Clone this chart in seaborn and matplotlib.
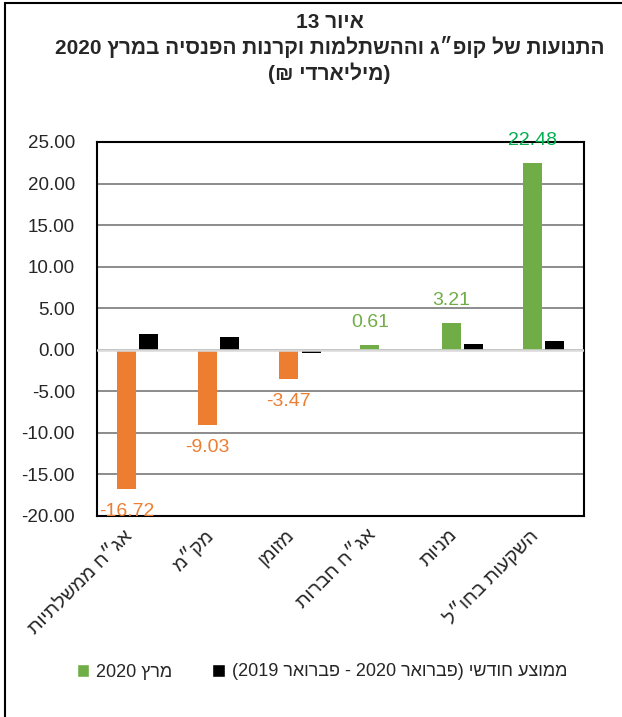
import re
import pandas as pd
import seaborn as sns
import matplotlib.pyplot as plt
from matplotlib.patches import Patch, Rectangle
from matplotlib.transforms import ScaledTranslation

# data (billions NIS)
categories = ["אג״ח ממשלתיות", "מק״מ", "מזומן", "אג״ח חברות", "מניות", "השקעות בחו״ל"]
march_2020 = [-16.72, -9.03, -3.47, 0.61, 3.21, 22.48]
monthly_avg = [1.9, 1.5, -0.4, 0.0, 0.65, 1.05]
series_names = ["מרץ 2020", "ממוצע חודשי (פברואר 2020 - פברואר 2019)"]
title_lines = ["איור 13", "התנועות של קופ״ג וההשתלמות וקרנות הפנסיה במרץ 2020", "(מיליארדי ₪)"]

GREEN = "#70AD47"
ORANGE = "#ED7D31"


def rtl(s):
    # crude visual reordering for right-to-left text, numbers kept as they are
    parts = re.findall(r"\d+(?:\.\d+)?|\D", s)
    out = "".join(parts[::-1])
    return out.translate(str.maketrans("()", ")("))


sns.set_style("white")
plt.rcParams["font.family"] = ["Liberation Sans", "DejaVu Sans"]

df = pd.DataFrame({
    "cat": [rtl(c) for c in categories] * 2,
    "value": march_2020 + monthly_avg,
    "series": [series_names[0]] * len(categories) + [series_names[1]] * len(categories),
})

fig = plt.figure(figsize=(6.22, 7.17), dpi=100)
ax = fig.add_axes([97 / 622, 1 - 516 / 717, (584 - 97) / 622, (516 - 142) / 717])

sns.barplot(data=df, x="cat", y="value", hue="series", palette=[GREEN, "black"],
            width=0.55, gap=0.15, legend=False, ax=ax, zorder=3)

# march bars: orange when negative, green when positive
march_bars = ax.containers[0]
for bar, v in zip(march_bars, march_2020):
    bar.set_facecolor(ORANGE if v < 0 else GREEN)
    bar.set_edgecolor("none")
for bar in ax.containers[1]:
    bar.set_edgecolor("none")

texts = ax.bar_label(march_bars, labels=[f"{v:.2f}" for v in march_2020],
                     padding=10, fontsize=14)
for t, v in zip(texts, march_2020):
    t.set_color(ORANGE if v < 0 else GREEN)
texts[-1].set_color("#00B050")

ax.set_ylim(-20, 25)
ax.set_yticks(range(-20, 26, 5))
ax.set_yticklabels([f"{y:.2f}" for y in range(-20, 26, 5)], fontsize=13.5)
ax.yaxis.grid(True, color="#8C8C8C", linewidth=1.4, zorder=0)
ax.axhline(0, color="#D9D9D9", linewidth=1.8, zorder=4)
ax.tick_params(axis="y", length=0, pad=16)
ax.tick_params(axis="x", length=0, pad=12)
ax.set_xlabel("")
ax.set_ylabel("")
shift = ScaledTranslation(-8 / 100, 0, fig.dpi_scale_trans)
for lbl in ax.get_xticklabels():
    lbl.set_rotation(45)
    lbl.set_rotation_mode("anchor")
    lbl.set_ha("right")
    lbl.set_va("center")
    lbl.set_fontsize(14)
    lbl.set_transform(lbl.get_transform() + shift)
for sp in ax.spines.values():
    sp.set_visible(True)
    sp.set_color("black")
    sp.set_linewidth(1.5)

# title
ys = [22, 47, 73]
for line, y in zip(title_lines, ys):
    fig.text(0.53, 1 - y / 717, rtl(line), ha="center", va="center",
             fontsize=15, fontweight="bold")

# legend
handles = [Patch(facecolor=GREEN), Patch(facecolor="black")]
fig.legend(handles, [rtl(s) for s in series_names], loc="center",
           bbox_to_anchor=(322 / 622, 1 - 672 / 717), ncol=2, frameon=False,
           fontsize=13, handlelength=0.7, handleheight=0.7, handletextpad=0.4,
           columnspacing=2.2)

# outer border (only left and top visible in the reference)
fig.patches.append(Rectangle((5 / 622, -0.1), 1.2, 1.1 - 3 / 717, transform=fig.transFigure,
                             fill=False, edgecolor="black", linewidth=1.5))

fig.savefig("out.png", dpi=100)
plt.close(fig)
